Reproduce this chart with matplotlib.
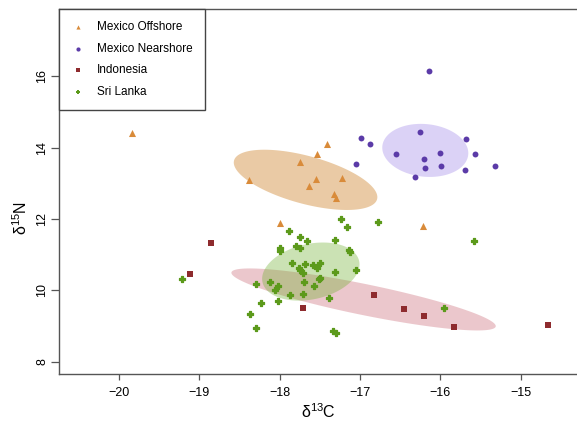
# Stable isotope biplot (d13C vs d15N) with SIBER-style corrected standard ellipses
import numpy as np
import matplotlib
matplotlib.use("Agg")
import matplotlib.pyplot as plt

plt.rcParams["font.family"] = ["Liberation Sans", "DejaVu Sans"]
plt.rcParams["mathtext.fontset"] = "custom"
plt.rcParams["mathtext.rm"] = "Liberation Sans"

# Data
offshore_x = [-19.83, -18.38, -17.41, -17.53, -17.75, -17.55, -17.22, -17.63, -17.32, -17.30, -17.99, -16.21]
offshore_y = [14.40, 13.10, 14.09, 13.83, 13.59, 13.12, 13.15, 12.91, 12.69, 12.59, 11.88, 11.79]

nearshore_x = [-16.14, -16.25, -16.99, -16.87, -15.68, -16.55, -17.05, -16.00, -16.20, -15.57, -16.19, -15.99, -15.32, -15.69, -16.32]
nearshore_y = [16.14, 14.44, 14.27, 14.09, 14.24, 13.81, 13.55, 13.84, 13.68, 13.81, 13.43, 13.48, 13.47, 13.36, 13.18]

indonesia_x = [-18.85, -19.12, -17.71, -16.82, -16.45, -16.20, -15.83, -14.66]
indonesia_y = [11.34, 10.47, 9.50, 9.88, 9.48, 9.29, 8.98, 9.03]

srilanka_x = [-17.23, -17.16, -17.88, -17.74, -17.66, -17.31, -17.79, -17.75, -17.99, -18.00,
              -17.14, -17.12, -17.85, -17.68, -17.58, -17.50, -17.54, -17.76, -17.75, -17.71,
              -17.05, -17.31, -17.50, -17.51, -17.70, -18.12, -18.29, -18.02, -17.57, -18.06,
              -17.87, -17.71, -17.38, -18.23, -18.02, -18.37, -18.29, -17.34, -17.30, -16.77,
              -15.58, -15.95, -19.21]
srilanka_y = [12.00, 11.77, 11.66, 11.49, 11.38, 11.42, 11.25, 11.19, 11.18, 11.10,
              11.14, 11.08, 10.76, 10.73, 10.71, 10.76, 10.62, 10.63, 10.56, 10.49,
              10.58, 10.51, 10.35, 10.31, 10.24, 10.24, 10.17, 10.13, 10.13, 10.01,
              9.88, 9.91, 9.80, 9.66, 9.71, 9.34, 8.94, 8.86, 8.81, 11.92,
              11.38, 9.52, 10.32]

groups = ["Mexico Offshore", "Mexico Nearshore", "Indonesia", "Sri Lanka"]
xs = [offshore_x, nearshore_x, indonesia_x, srilanka_x]
ys = [offshore_y, nearshore_y, indonesia_y, srilanka_y]
point_colors = ["#D98B3A", "#5B3BA8", "#8E2B2E", "#5C9A1B"]
fill_colors = ["#D9A05B", "#9A7FE8", "#B22234", "#6AAE2A"]
fill_alpha = [0.55, 0.35, 0.25, 0.35]
markers = ["^", "o", "s", "P"]
sizes = [26, 18, 17, 17]
edge_w = [0, 0, 0, 0.9]


def sea_c(x, y, n=200):
    # small-sample corrected standard ellipse (SEAc)
    x = np.asarray(x)
    y = np.asarray(y)
    k = len(x)
    cov = np.cov(x, y) * (k - 1) / (k - 2)
    vals, vecs = np.linalg.eigh(cov)
    t = np.linspace(0, 2 * np.pi, n)
    circ = np.vstack([np.cos(t), np.sin(t)])
    pts = vecs @ (np.sqrt(vals)[:, None] * circ)
    return x.mean() + pts[0], y.mean() + pts[1]


fig = plt.figure(figsize=(5.77, 4.23), dpi=100)
ax = fig.add_axes([0.1028, 0.1151, 0.8972, 0.8629])

# Ellipses first, points on top
for gx, gy, fc, a in zip(xs, ys, fill_colors, fill_alpha):
    ex, ey = sea_c(gx, gy)
    ax.fill(ex, ey, color=fc, alpha=a, lw=0, zorder=1)

for name, gx, gy, c, m, s, ew in zip(groups, xs, ys, point_colors, markers, sizes, edge_w):
    ax.scatter(gx, gy, s=s, c=c, marker=m, edgecolors=c, linewidths=ew, label=name, zorder=2)

ax.set_xlim(-20.74, -14.30)
ax.set_ylim(7.65, 17.87)
ax.set_xticks([-20, -19, -18, -17, -16, -15])
ax.set_yticks([8, 10, 12, 14, 16])

for sp in ["left", "bottom", "top"]:
    ax.spines[sp].set_color("#555555")
    ax.spines[sp].set_linewidth(1.0)
ax.spines["right"].set_visible(False)

ax.tick_params(axis="x", length=4.5, width=0.9, color="#555555", labelsize=9, pad=4.5)
ax.tick_params(axis="y", length=6, width=0.9, color="#555555", labelsize=9, pad=2)
for lab in ax.get_yticklabels():
    lab.set_rotation(90)
    lab.set_va("center")

ax.set_xlabel("δ$^{13}$C", fontsize=11.5)
ax.set_ylabel("δ$^{15}$N", fontsize=11.5)
ax.xaxis.set_label_coords(0.5, -0.078)
ax.yaxis.set_label_coords(-0.057, 0.428)

leg = ax.legend(loc="upper left", bbox_to_anchor=(0, 1), borderaxespad=0,
                fancybox=False, edgecolor="#444444", framealpha=1,
                fontsize=8.5, labelspacing=0.82,
                borderpad=1.0, handletextpad=1.0, handlelength=1.2)
leg.get_frame().set_linewidth(1.0)
# small legend symbols like the original
for h in leg.legend_handles:
    h.set_sizes([9])
    h.set_linewidths([0])

plt.savefig("out.png", dpi=100)
